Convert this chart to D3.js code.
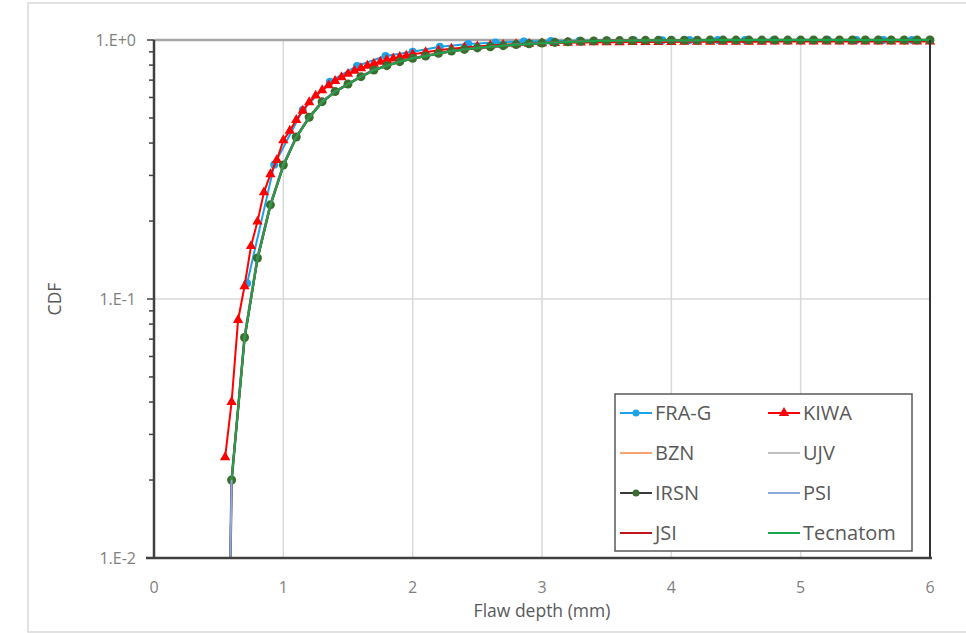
<!DOCTYPE html>
<html>
<head>
<meta charset="utf-8">
<script src="https://cdn.jsdelivr.net/npm/d3@7"></script>
<style>
  body { margin: 0; background: #fff; }
  svg { display: block; font-family: "Open Sans", "Noto Sans", sans-serif; }
</style>
</head>
<body>
<svg id="chart" width="966" height="633"></svg>
<script>
// x grid (mm) shared by the 0.1-step series
const gridX = [0.6,0.7,0.8,0.9,1.0,1.1,1.2,1.3,1.4,1.5,1.6,1.7,1.8,1.9,2.0,2.1,2.2,2.3,2.4,2.5,
               2.6,2.7,2.8,2.9,3.0,3.1,3.2,3.3,3.4,3.5,3.6,3.7,3.8,3.9,4.0,4.1,4.2,4.3,4.4,4.5,
               4.6,4.7,4.8,4.9,5.0,5.1,5.2,5.3,5.4,5.5,5.6,5.7,5.8,5.9,6.0];

const irsnY = [0.020,0.071,0.144,0.231,0.329,0.422,0.503,0.578,0.632,0.676,0.722,0.766,0.796,0.825,0.850,0.867,0.888,0.906,0.920,0.932,
               0.942,0.951,0.960,0.967,0.973,0.979,0.984,0.988,0.992,0.994,0.995,0.996,0.997,0.997,0.998,0.998,0.998,0.999,0.999,0.999,
               0.999,0.999,0.999,0.999,0.999,1,1,1,1,1,1,1,1,1,1];

const tecnatomY = [0.020,0.070,0.142,0.229,0.326,0.420,0.501,0.575,0.630,0.675,0.720,0.764,0.795,0.824,0.849,0.866,0.887,0.905,0.919,0.931,
                   0.941,0.950,0.959,0.966,0.972,0.978,0.983,0.987,0.991,0.993,0.995,0.996,0.997,0.997,0.998,0.998,0.998,0.999,0.999,0.999,
                   0.999,0.999,0.999,0.999,0.999,1,1,1,1,1,1,1,1,1,1];

// BZN, UJV, IRSN, PSI start from ~0 just below 0.6 mm (the near-vertical spike)
const lowStartX = [0.5].concat(gridX);
const bznY = [1e-5].concat(irsnY);
const ujvY = [1e-5].concat(irsnY);
const irsnLowY = [1e-5].concat(irsnY);
const psiY = [1e-5].concat(irsnY);
const jsiY = tecnatomY;

const fraX = [0.72,0.93,1.15,1.36,1.57,1.79,2.00,2.21,2.43,2.64,2.86,3.07,3.29,3.50,3.71,3.93,4.14,4.36,4.57,4.79,5.00,5.21,5.43,5.64,5.86];
const fraY = [0.115,0.330,0.537,0.690,0.794,0.867,0.900,0.942,0.965,0.978,0.986,0.991,0.994,0.996,0.997,0.998,0.999,0.999,1,1,1,1,1,1,1];

const kiwaX = [0.55,0.60,0.65,0.70,0.75,0.80,0.85,0.90,0.95,1.00,1.05,1.10,1.15,1.20,1.25,1.30,1.35,1.40,1.45,1.50,
               1.55,1.60,1.65,1.70,1.75,1.80,1.85,1.90,1.95,2.00,2.1,2.2,2.3,2.4,2.5,2.6,2.7,2.8,2.9,3.0,
               3.1,3.2,3.3,3.4,3.5,3.6,3.7,3.8,3.9,4.0,4.1,4.2,4.3,4.4,4.5,4.6,4.7,4.8,4.9,5.0,
               5.1,5.2,5.3,5.4,5.5,5.6,5.7,5.8,5.9,6.0];
const kiwaY = [0.0245,0.040,0.083,0.112,0.160,0.199,0.258,0.303,0.344,0.410,0.446,0.491,0.533,0.575,0.610,0.640,0.668,0.695,0.718,0.740,
               0.760,0.778,0.795,0.810,0.824,0.837,0.849,0.860,0.870,0.880,0.897,0.912,0.925,0.935,0.944,0.952,0.958,0.963,0.967,0.971,
               0.974,0.976,0.978,0.979,0.980,0.981,0.982,0.982,0.983,0.983,0.984,0.984,0.984,0.985,0.985,0.985,0.985,0.986,0.986,0.986,
               0.986,0.986,0.987,0.987,0.987,0.987,0.987,0.987,0.987,0.987];

const xTicks = [0,1,2,3,4,5,6];
const yMajor = [0.01,0.1,1];
const yLabels = ["1.E-2","1.E-1","1.E+0"];

const series = [
  { name: "FRA-G",    xs: fraX,      ys: fraY,      color: "#1aa3e8", width: 2,   marker: "dot", mColor: "#1aa3e8", r: 4 },
  { name: "KIWA",     xs: kiwaX,     ys: kiwaY,     color: "#ff0000", width: 2,   marker: "tri", mColor: "#ff0000" },
  { name: "BZN",      xs: lowStartX, ys: bznY,      color: "#f4a26f", width: 2 },
  { name: "UJV",      xs: lowStartX, ys: ujvY,      color: "#bfbfbf", width: 2 },
  { name: "IRSN",     xs: lowStartX, ys: irsnLowY,  color: "#3a3a3a", width: 2.5, marker: "dot", mColor: "#3a6e2e", r: 4.5 },
  { name: "PSI",      xs: lowStartX, ys: psiY,      color: "#8ea9db", width: 2 },
  { name: "JSI",      xs: gridX,     ys: jsiY,      color: "#c0141c", width: 2 },
  { name: "Tecnatom", xs: gridX,     ys: tecnatomY, color: "#19a64a", width: 2 }
];

const svg = d3.select("#chart");
const W = +svg.attr("width");

// outer chart frame
svg.append("rect").attr("x", 28).attr("y", 3).attr("width", W).attr("height", 629)
  .attr("fill", "#fff").attr("stroke", "#d9d9d9").attr("stroke-width", 1.5);

const x = d3.scaleLinear().domain([0, 6]).range([154, 930]);
const y = d3.scaleLog().domain([0.01, 1]).range([558, 40]);

// gridlines
svg.append("g").selectAll("line").data(xTicks.slice(1, 6)).enter().append("line")
  .attr("x1", d => x(d)).attr("x2", d => x(d)).attr("y1", y(1)).attr("y2", y(0.01))
  .attr("stroke", "#d9d9d9").attr("stroke-width", 1.5);
svg.append("line").attr("x1", x(0)).attr("x2", x(6)).attr("y1", y(0.1)).attr("y2", y(0.1))
  .attr("stroke", "#d9d9d9").attr("stroke-width", 1.5);
svg.append("line").attr("x1", x(0)).attr("x2", x(6)).attr("y1", y(1)).attr("y2", y(1))
  .attr("stroke", "#a6a6a6").attr("stroke-width", 2.5);

// clip
svg.append("defs").append("clipPath").attr("id", "plot-clip")
  .append("rect").attr("x", x(0)).attr("y", y(1) - 8).attr("width", x(6) - x(0) + 8).attr("height", y(0.01) - y(1) + 8);

const plot = svg.append("g").attr("clip-path", "url(#plot-clip)");
const line = d3.line().x(d => x(d[0])).y(d => y(d[1]));
const tri = d3.symbol().type(d3.symbolTriangle).size(46);

series.forEach(s => {
  const pts = s.xs.map((v, i) => [v, s.ys[i]]);
  plot.append("path").datum(pts).attr("d", line)
    .attr("fill", "none").attr("stroke", s.color).attr("stroke-width", s.width)
    .attr("stroke-linejoin", "round");
  if (s.marker === "dot") {
    plot.append("g").selectAll("circle").data(pts.filter(p => p[1] >= 0.01)).enter().append("circle")
      .attr("cx", d => x(d[0])).attr("cy", d => y(d[1])).attr("r", s.r)
      .attr("fill", s.mColor);
  } else if (s.marker === "tri") {
    plot.append("g").selectAll("path").data(pts).enter().append("path")
      .attr("d", tri).attr("transform", d => `translate(${x(d[0])},${y(d[1])})`)
      .attr("fill", s.mColor);
  }
});

// right edge line at 6 mm
svg.append("line").attr("x1", x(6)).attr("x2", x(6)).attr("y1", y(1)).attr("y2", y(0.01))
  .attr("stroke", "#333").attr("stroke-width", 2);

// y axis with log minor ticks
const yAxis = svg.append("g").attr("transform", `translate(${x(0)},0)`);
yAxis.append("line").attr("y1", y(1)).attr("y2", y(0.01)).attr("stroke", "#404040").attr("stroke-width", 2.5);
const minorTicks = y.ticks().filter(v => yMajor.indexOf(v) < 0);
yAxis.selectAll("line.minor").data(minorTicks).enter().append("line")
  .attr("class", "minor").attr("x1", -5).attr("x2", 0).attr("y1", d => y(d)).attr("y2", d => y(d))
  .attr("stroke", "#404040").attr("stroke-width", 1.5);
yAxis.selectAll("line.major").data(yMajor).enter().append("line")
  .attr("class", "major").attr("x1", -7).attr("x2", 0).attr("y1", d => y(d)).attr("y2", d => y(d))
  .attr("stroke", "#404040").attr("stroke-width", 1.5);
yAxis.selectAll("text").data(yMajor).enter().append("text")
  .attr("x", -18).attr("y", d => y(d)).attr("dy", "0.35em")
  .attr("text-anchor", "end").attr("font-size", 16).attr("fill", "#7f7f7f")
  .text((d, i) => yLabels[i]);

// x axis
svg.append("line").attr("x1", x(0) - 8).attr("x2", x(6) + 2).attr("y1", y(0.01)).attr("y2", y(0.01))
  .attr("stroke", "#404040").attr("stroke-width", 2.5);
svg.append("g").selectAll("text").data(xTicks).enter().append("text")
  .attr("x", d => x(d)).attr("y", 587).attr("dy", "0.35em")
  .attr("text-anchor", "middle").attr("font-size", 16).attr("fill", "#7f7f7f")
  .text(d => d);

svg.append("text").attr("x", (x(0) + x(6)) / 2).attr("y", 611).attr("dy", "0.35em")
  .attr("text-anchor", "middle").attr("font-size", 17.5).attr("fill", "#595959")
  .text("Flaw depth (mm)");
svg.append("text").attr("transform", `translate(55,${(y(1) + y(0.01)) / 2}) rotate(-90)`)
  .attr("dy", "0.35em").attr("text-anchor", "middle").attr("font-size", 17.5).attr("fill", "#595959")
  .text("CDF");

// legend
const legend = svg.append("g");
legend.append("rect").attr("x", 615).attr("y", 394).attr("width", 297).attr("height", 157)
  .attr("fill", "#fff").attr("stroke", "#595959").attr("stroke-width", 1.5);
series.forEach((s, i) => {
  const col = i % 2, row = Math.floor(i / 2);
  const lx = 620 + col * 148, ly = 413 + row * 40;
  const g = legend.append("g").attr("transform", `translate(${lx},${ly})`);
  g.append("line").attr("x1", 0).attr("x2", 32).attr("stroke", s.color).attr("stroke-width", 2);
  if (s.marker === "dot") g.append("circle").attr("cx", 16).attr("r", 3.5).attr("fill", s.mColor);
  if (s.marker === "tri") g.append("path").attr("d", tri).attr("transform", "translate(16,0)").attr("fill", s.mColor);
  g.append("text").attr("x", 35).attr("dy", "0.35em").attr("font-size", 20).attr("fill", "#595959").text(s.name);
});
</script>
</body>
</html>
